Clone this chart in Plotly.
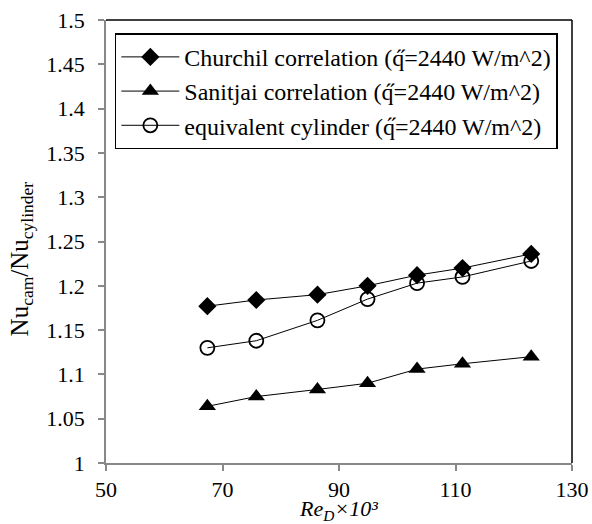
import plotly.graph_objects as go

re_d = [67.4, 75.8, 86.3, 94.9, 103.4, 111.2, 123.0]
churchil = [1.177, 1.184, 1.190, 1.200, 1.212, 1.220, 1.236]
sanitjai = [1.064, 1.075, 1.083, 1.090, 1.106, 1.112, 1.120]
equiv = [1.130, 1.138, 1.161, 1.185, 1.203, 1.210, 1.228]

names = ["Churchil correlation (q\u030b=2440 W/m^2)",
         "Sanitjai correlation (q\u030b=2440 W/m^2)",
         "equivalent cylinder (q\u030b=2440 W/m^2)"]

x_ticks = [50, 70, 90, 110, 130]
y_ticks = [1, 1.05, 1.1, 1.15, 1.2, 1.25, 1.3, 1.35, 1.4, 1.45, 1.5]
y_labels = ["1", "1.05", "1.1", "1.15", "1.2", "1.25", "1.3", "1.35", "1.4", "1.45", "1.5"]

font = "Liberation Serif"
fs = 22

fig = go.Figure()
fig.add_trace(go.Scatter(x=re_d, y=churchil, name=names[0], mode="lines+markers",
                         legendgroup="a",
                         line=dict(color="black", width=1),
                         marker=dict(symbol="diamond", size=14, color="black")))
fig.add_trace(go.Scatter(x=re_d, y=sanitjai, name=names[1], mode="lines+markers",
                         legendgroup="b",
                         line=dict(color="black", width=1),
                         marker=dict(symbol="triangle-up", size=15, color="black")))
fig.add_trace(go.Scatter(x=re_d, y=equiv, name=names[2], mode="lines+markers",
                         legendgroup="c",
                         line=dict(color="black", width=1),
                         marker=dict(symbol="circle-open", size=14, color="black",
                                     line=dict(width=1.8, color="black"))))

fig.update_layout(
    width=592, height=524,
    margin=dict(l=106, r=20, t=20, b=61),
    paper_bgcolor="white", plot_bgcolor="white",
    font=dict(family=font, size=fs, color="black"),
    showlegend=True,
    legend=dict(x=0.019, y=0.97, xanchor="left", yanchor="top",
                bordercolor="black", borderwidth=1.5, bgcolor="white",
                font=dict(family=font, size=24, color="black"),
                tracegroupgap=0, itemwidth=58),
    xaxis=dict(range=[50, 130], tickvals=x_ticks, showgrid=False, zeroline=False,
               showline=True, linecolor="#888888", linewidth=1.5, automargin=False,
               ticks="outside", ticklen=6, tickcolor="#888888", tickwidth=1.5,
               tickfont=dict(family=font, size=fs),
               title=dict(text="<i>Re<sub>D</sub>×10³</i>", standoff=0,
                          font=dict(family=font, size=fs))),
    yaxis=dict(range=[1, 1.5], tickvals=y_ticks, ticktext=y_labels, showgrid=False,
               zeroline=False, showline=True, linecolor="#888888", linewidth=1.5,
               automargin=False, ticklabelstandoff=9,
               ticks="outside", ticklen=6, tickcolor="#888888", tickwidth=1.5,
               tickfont=dict(family=font, size=fs)),
)
fig.add_annotation(text="Nu<sub>cam</sub>/Nu<sub>cylinder</sub>", textangle=-90,
                   xref="paper", yref="paper", x=-0.182, y=0.46,
                   xanchor="center", yanchor="middle", showarrow=False,
                   font=dict(family=font, size=25, color="black"))
fig.add_shape(type="line", xref="paper", yref="paper", x0=0, x1=1, y0=1, y1=1,
              line=dict(color="black", width=1.5))
fig.add_shape(type="line", xref="paper", yref="paper", x0=1, x1=1, y0=0, y1=1,
              line=dict(color="black", width=1.5))

fig.write_html("out.html", config={"displayModeBar": False},
               post_script="document.body.style.margin='0';")
